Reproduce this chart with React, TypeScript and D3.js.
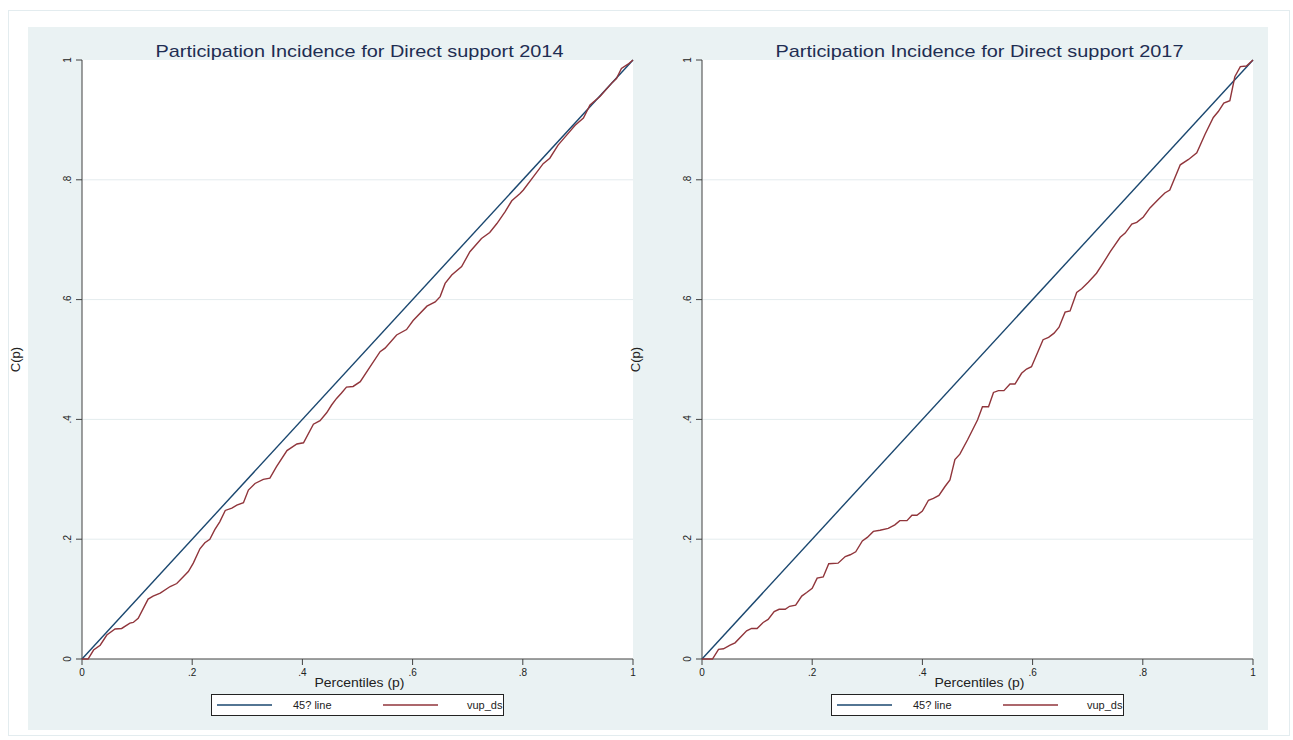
import React from "react";
import * as d3 from "d3";

const titles = ["Participation Incidence for Direct support 2014", "Participation Incidence for Direct support 2017"];
const xTicks = [0, 0.2, 0.4, 0.6, 0.8, 1];
const yTicks = [0, 0.2, 0.4, 0.6, 0.8, 1];
const tickLabels = ["0", ".2", ".4", ".6", ".8", "1"];
const legendLabels = ["45? line", "vup_ds"];

const diagP = [0, 1];
const diagC = [0, 1];

const p2014 = [0, .011, .021, .033, .045, .06, .072, .087, .093, .102, .12, .129, .142, .16, .172, .193, .202, .214, .223, .232, .241, .25, .26, .272, .281, .293, .302, .314, .329, .341, .353, .372, .39, .402, .42, .432, .444, .453, .462, .471, .48, .492, .505, .523, .541, .55, .571, .589, .601, .626, .641, .65, .659, .671, .689, .704, .725, .74, .753, .768, .78, .795, .801, .819, .837, .849, .864, .88, .895, .91, .922, .94, .961, .97, .979, .991, 1];
const c2014 = [0, 0, .015, .023, .04, .05, .051, .06, .061, .068, .1, .105, .11, .121, .126, .146, .16, .184, .194, .2, .216, .229, .248, .252, .257, .261, .282, .293, .3, .302, .321, .348, .359, .361, .392, .398, .411, .424, .435, .444, .454, .455, .463, .488, .513, .519, .541, .55, .565, .589, .596, .605, .627, .641, .655, .68, .702, .712, .727, .747, .765, .777, .783, .805, .827, .836, .858, .875, .891, .903, .925, .939, .961, .969, .986, .993, 1];

const p2017 = [0, .019, .03, .039, .051, .06, .081, .09, .1, .111, .12, .131, .14, .151, .159, .17, .181, .19, .2, .209, .22, .23, .247, .26, .269, .279, .291, .3, .311, .323, .338, .35, .359, .372, .381, .39, .4, .411, .42, .43, .441, .45, .459, .468, .482, .5, .509, .52, .529, .538, .548, .559, .568, .58, .589, .598, .619, .629, .639, .648, .659, .668, .68, .689, .701, .716, .728, .741, .759, .768, .78, .789, .801, .813, .828, .84, .849, .868, .883, .898, .913, .928, .937, .947, .958, .967, .977, .988, 1];
const c2017 = [0, 0, .016, .017, .023, .027, .047, .051, .051, .061, .066, .079, .083, .083, .088, .09, .105, .111, .118, .135, .137, .159, .16, .171, .174, .179, .197, .203, .213, .215, .218, .224, .231, .231, .24, .24, .247, .265, .268, .273, .288, .299, .333, .342, .366, .399, .421, .421, .445, .448, .448, .459, .459, .477, .484, .488, .533, .537, .544, .554, .579, .581, .612, .618, .629, .644, .661, .68, .704, .711, .726, .729, .738, .753, .767, .778, .783, .825, .834, .845, .876, .904, .914, .928, .932, .972, .989, .99, 1];

const BLUE = "#1a476f";
const RED = "#90353b";
const PANEL_BG = "#eaf2f3";
const FONT = "'Liberation Sans', Arial, sans-serif";

type PanelProps = { x0: number; title: string; p: number[]; c: number[] };

function Panel({ x0, title, p, c }: PanelProps) {
  const left = x0 + 54;
  const right = x0 + 605;
  const top = 60;
  const bottom = 659;
  const xs = d3.scaleLinear().domain([0, 1]).range([left, right]);
  const ys = d3.scaleLinear().domain([0, 1]).range([bottom, top]);
  const line = d3.line<[number, number]>().x((d) => xs(d[0])).y((d) => ys(d[1]));
  const diag = line(diagP.map((v, i) => [v, diagC[i]] as [number, number])) || "";
  const curve = line(p.map((v, i) => [v, c[i]] as [number, number])) || "";
  const cx = (left + right) / 2 + 2;
  const lgL = left + 129;
  const lgR = left + 421;
  return (
    <g>
      <rect x={left} y={top} width={right - left} height={bottom - top} fill="#ffffff" />
      {yTicks.filter((t) => t > 0 && t < 1).map((t) => (
        <line key={"g" + t} x1={left} x2={right} y1={ys(t)} y2={ys(t)} stroke="#e4ecee" strokeWidth={1} />
      ))}
      <text x={cx} y={57} textAnchor="middle" fontFamily={FONT} fontSize={17} fill="#1e2d52" textLength={408} lengthAdjust="spacingAndGlyphs">{title}</text>
      <line x1={left} x2={left} y1={top} y2={bottom} stroke="#404040" strokeWidth={1} />
      <line x1={left} x2={right} y1={bottom} y2={bottom} stroke="#404040" strokeWidth={1} />
      {yTicks.map((t, i) => (
        <g key={"y" + t}>
          <line x1={left - 6} x2={left} y1={ys(t)} y2={ys(t)} stroke="#404040" strokeWidth={1} />
          <text transform={`translate(${left - 11},${ys(t)}) rotate(-90)`} textAnchor="middle" fontFamily={FONT} fontSize={10} fill="#222">{tickLabels[i]}</text>
        </g>
      ))}
      {xTicks.map((t, i) => (
        <g key={"x" + t}>
          <line x1={xs(t)} x2={xs(t)} y1={bottom} y2={bottom + 6} stroke="#404040" strokeWidth={1} />
          <text x={xs(t)} y={bottom + 17} textAnchor="middle" fontFamily={FONT} fontSize={10} fill="#222">{tickLabels[i]}</text>
        </g>
      ))}
      <text x={cx} y={687} textAnchor="middle" fontFamily={FONT} fontSize={13} fill="#222" textLength={90} lengthAdjust="spacingAndGlyphs">Percentiles (p)</text>
      <text transform={`translate(${left - 62},${(top + bottom) / 2}) rotate(-90)`} textAnchor="middle" fontFamily={FONT} fontSize={13} fill="#222">C(p)</text>
      <path d={diag} fill="none" stroke={BLUE} strokeWidth={1.4} />
      <path d={curve} fill="none" stroke={RED} strokeWidth={1.4} />
      <rect x={lgL + 0.5} y={694.5} width={lgR - lgL} height={21} fill="#ffffff" stroke="#222" strokeWidth={1} />
      <line x1={lgL + 6} x2={lgL + 61} y1={705} y2={705} stroke={BLUE} strokeWidth={1.4} />
      <text x={lgL + 82} y={709} fontFamily={FONT} fontSize={11} fill="#222">{legendLabels[0]}</text>
      <line x1={lgL + 172} x2={lgL + 227} y1={705} y2={705} stroke={RED} strokeWidth={1.4} />
      <text x={lgL + 256} y={709} fontFamily={FONT} fontSize={11} fill="#222">{legendLabels[1]}</text>
    </g>
  );
}

export default function App() {
  return (
    <svg width={1293} height={740} style={{ position: "absolute", left: 0, top: 0, background: "#ffffff" }}>
      <rect x={8.5} y={10.5} width={1281} height={725} fill="#ffffff" stroke="#e3ecef" strokeWidth={1} />
      <rect x={28} y={27} width={1240} height={703} fill={PANEL_BG} />
      <Panel x0={28} title={titles[0]} p={p2014} c={c2014} />
      <Panel x0={648} title={titles[1]} p={p2017} c={c2017} />
    </svg>
  );
}
